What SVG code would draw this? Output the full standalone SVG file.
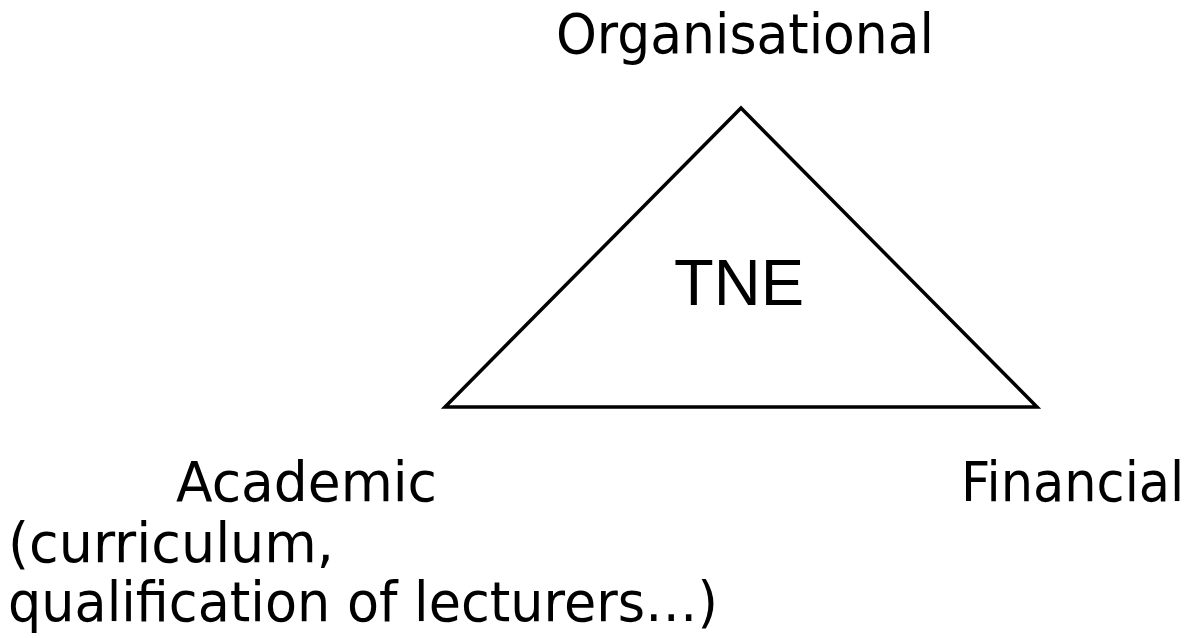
<svg xmlns="http://www.w3.org/2000/svg" width="1197" height="638" viewBox="0 0 1197 638">
<style>
.lbl{font-family:"DejaVu Sans","Verdana",sans-serif;font-size:55px;fill:#000}
.tne{font-family:"Liberation Sans",Arial,sans-serif;font-size:65px;fill:#000}
</style>
<rect width="1197" height="638" fill="#fff"/>
<g id="triangle">
<polygon points="741,108 445,407 1037,407" fill="none" stroke="#000" stroke-width="3.5" stroke-linejoin="miter"/>
<text class="tne" x="674" y="305">TNE</text>
</g>
<g id="organisational">
<text class="lbl" x="556" y="53" textLength="378" lengthAdjust="spacingAndGlyphs">Organisational</text>
</g>
<g id="academic">
<text class="lbl" x="176" y="501" textLength="261" lengthAdjust="spacingAndGlyphs">Academic</text>
<text class="lbl" x="8" y="562" textLength="326" lengthAdjust="spacingAndGlyphs">(curriculum,</text>
<text class="lbl" x="8" y="621" textLength="710" lengthAdjust="spacingAndGlyphs">qualification of lecturers…)</text>
</g>
<g id="financial">
<text class="lbl" transform="translate(961,501) scale(0.927,1)" x="0" y="0">Financial</text>
</g>
</svg>
